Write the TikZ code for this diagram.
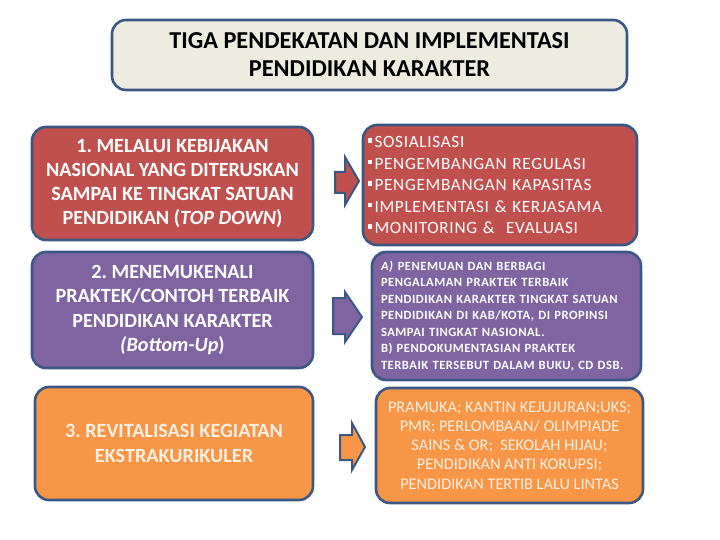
\documentclass[tikz,border=0pt]{standalone}
\usepackage{fontspec}
\setmainfont{Carlito}
\newfontfamily\spacedfont[LetterSpace=4]{Carlito}
\usetikzlibrary{positioning}

\definecolor{edgeblue}{HTML}{3B5884}
\definecolor{titlefill}{HTML}{EEECE1}
\definecolor{redfill}{HTML}{C0504D}
\definecolor{purplefill}{HTML}{8064A2}
\definecolor{orangefill}{HTML}{F79646}
\definecolor{paletext}{HTML}{FDEFE3}

\newcommand{\sqbullet}{\textcolor{white}{\rule[0.28em]{0.26em}{0.26em}}\hspace{0.12em}}

\begin{document}
\begin{tikzpicture}[x=1pt,y=-1pt]
\tikzset{
	panel/.style={draw=edgeblue,
		line width=2.6pt,
		rounded corners=14pt,
		inner sep=4pt,
		text=white,
		align=center},
	bigtext/.style={font=\fontsize{20.2}{24.3}\selectfont\bfseries},
	pointer/.style={draw=edgeblue, line width=2pt, line join=miter}
}
\useasboundingbox (0,0) rectangle (720,540);

% title
\node[panel, fill=titlefill, text=black, minimum width=515pt, minimum height=70pt,
	font=\fontsize{24.3}{28}\selectfont\bfseries] (title) at (369.5,55)
	{TIGA PENDEKATAN DAN IMPLEMENTASI\\PENDIDIKAN KARAKTER};

% left column
\node[panel, bigtext, fill=redfill, minimum width=281pt, minimum height=113pt] (topdown) at (172.5,183.5)
	{1.\ MELALUI KEBIJAKAN\\NASIONAL YANG DITERUSKAN\\SAMPAI KE TINGKAT SATUAN\\PENDIDIKAN (\textit{TOP DOWN})};
\node[panel, bigtext, fill=purplefill, minimum width=281pt, minimum height=116pt] (bottomup) at (172.5,310)
	{2.\ MENEMUKENALI\\PRAKTEK/CONTOH TERBAIK\\PENDIDIKAN KARAKTER\\\textit{(Bottom-Up})};
\node[panel, bigtext, fill=orangefill, text=paletext, minimum width=278pt, minimum height=113pt] (ekskul) at (174,443.5)
	{3.\ REVITALISASI KEGIATAN\\EKSTRAKURIKULER};

% right column
\node[panel, fill=redfill, minimum width=274pt, minimum height=120pt, text width=264pt, align=left,
	font=\fontsize{17.2}{21.5}\selectfont\spacedfont] (programs) at (500,185)
	{\sqbullet SOSIALISASI\\\sqbullet PENGEMBANGAN REGULASI\\\sqbullet PENGEMBANGAN KAPASITAS\\
	 \sqbullet IMPLEMENTASI \& KERJASAMA\\\sqbullet MONITORING \&\ \ EVALUASI};
\node[panel, fill=purplefill, minimum width=269pt, minimum height=128pt, text width=251pt, align=left,
	font=\fontsize{12.6}{16.5}\selectfont\spacedfont\bfseries] (bestpractice) at (506.5,316)
	{\textit{A)} PENEMUAN DAN BERBAGI\\PENGALAMAN PRAKTEK TERBAIK\\PENDIDIKAN KARAKTER TINGKAT SATUAN\\
	 PENDIDIKAN DI KAB/KOTA, DI PROPINSI\\SAMPAI TINGKAT NASIONAL.\\B) PENDOKUMENTASIAN PRAKTEK\\
	 TERBAIK TERSEBUT DALAM BUKU, CD DSB.};
\node[panel, fill=orangefill, text=paletext, minimum width=267pt, minimum height=115pt,
	font=\fontsize{16.3}{19.2}\selectfont] (activities) at (509.5,445.5)
	{PRAMUKA; KANTIN KEJUJURAN;UKS;\\PMR; PERLOMBAAN/ OLIMPIADE\\SAINS \& OR;\ \ SEKOLAH HIJAU;\\
	 PENDIDIKAN ANTI KORUPSI;\\PENDIDIKAN TERTIB LALU LINTAS};

% block arrows
\draw[pointer, fill=redfill] (335,172) -- (345,172) -- (345,157) -- (359,181) -- (345,205) -- (345,193) -- (335,193) -- cycle;
\draw[pointer, fill=purplefill] (333,298) -- (345,298) -- (345,292) -- (362,317) -- (345,342) -- (345,334) -- (333,334) -- cycle;
\draw[pointer, fill=orangefill] (340,435) -- (352,435) -- (352,423) -- (365,447) -- (352,470) -- (352,460) -- (340,460) -- cycle;
\end{tikzpicture}
\end{document}
